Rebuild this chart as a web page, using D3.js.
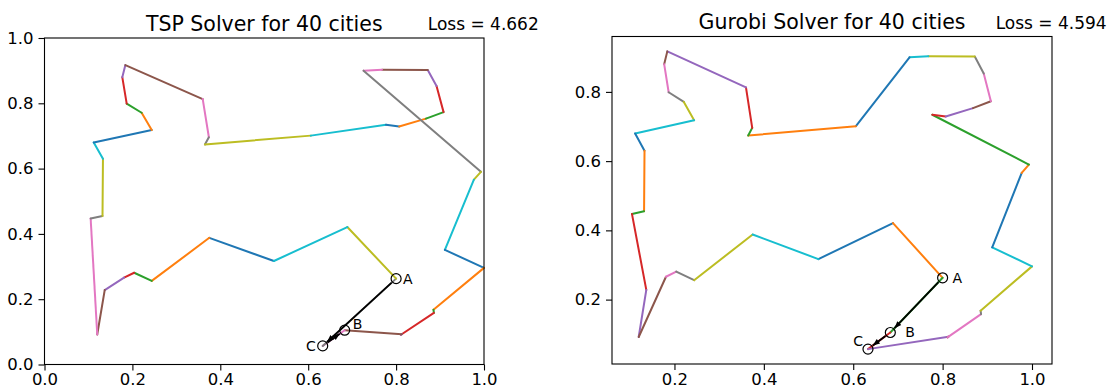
<!DOCTYPE html>
<html>
<head>
<meta charset="utf-8">
<script src="https://cdn.jsdelivr.net/npm/d3@7"></script>
<style>
  body { margin: 0; background: #fff; }
  svg { display: block; font-family: "DejaVu Sans", sans-serif; }
</style>
</head>
<body>
<svg id="chart" width="1112" height="389"></svg>
<script>
// city coordinates (unit square), indexed in the order the TSP solver visits them
const cityX = [0.522, 0.375, 0.244, 0.204, 0.181, 0.137, 0.120, 0.105, 0.132, 0.133,
               0.112, 0.244, 0.221, 0.187, 0.177, 0.184, 0.360, 0.374, 0.365, 0.606,
               0.777, 0.807, 0.868, 0.908, 0.892, 0.872, 0.768, 0.726, 0.993, 0.977,
               0.911, 1.000, 0.885, 0.886, 0.811, 0.813, 0.683, 0.633, 0.800, 0.689];
const cityY = [0.317, 0.388, 0.256, 0.281, 0.266, 0.228, 0.092, 0.447, 0.455, 0.630,
               0.680, 0.718, 0.771, 0.799, 0.880, 0.917, 0.813, 0.696, 0.674, 0.701,
               0.734, 0.729, 0.753, 0.773, 0.853, 0.902, 0.903, 0.900, 0.590, 0.566,
               0.351, 0.296, 0.168, 0.158, 0.091, 0.093, 0.105, 0.057, 0.263, 0.421];

const tspTour = d3.range(40);
const gurobiTour = [0, 39, 38, 36, 37, 35, 34, 33, 32, 31, 30, 29, 28, 20, 21, 22, 23, 24, 25, 26,
                    27, 19, 18, 17, 16, 15, 14, 13, 12, 11, 10, 9, 8, 7, 5, 6, 4, 3, 2, 1];

const panelTitles = ['TSP Solver for 40 cities', 'Gurobi Solver for 40 cities'];
const lossLabels = ['Loss = 4.662', 'Loss = 4.594'];

// marked cities A, B, C and the arrows drawn between them
const markedCities = [38, 36, 37];
const markNames = ['A', 'B', 'C'];
const tspArrows = [[38, 37], [37, 36]];
const gurobiArrows = [[38, 36], [36, 37]];

const tspTicksX = [0, 0.2, 0.4, 0.6, 0.8, 1.0];
const tspTicksY = [0, 0.2, 0.4, 0.6, 0.8, 1.0];
const gurobiTicksX = [0.2, 0.4, 0.6, 0.8, 1.0];
const gurobiTicksY = [0.2, 0.4, 0.6, 0.8];

const TITLE_SIZE = 20.5;
const TICK_SIZE = 16.5;
const LOSS_SIZE = 17;
const MARK_SIZE = 14;

const svg = d3.select('#chart');

svg.append('defs').append('marker')
  .attr('id', 'head')
  .attr('viewBox', '0 0 10 10')
  .attr('refX', 10).attr('refY', 5)
  .attr('markerUnits', 'userSpaceOnUse')
  .attr('markerWidth', 8).attr('markerHeight', 7)
  .attr('orient', 'auto')
  .append('path').attr('d', 'M0,1L10,5L0,9z').attr('fill', '#000');

function padded(values) {
  // matplotlib-style autoscale: data extent plus 5% each side
  const [lo, hi] = d3.extent(values);
  const m = (hi - lo) * 0.05;
  return [lo - m, hi + m];
}

const panels = [
  {
    left: 44.5, right: 484, top: 38, bottom: 364.5,
    xDomain: [0, 1], yDomain: [0, 1],
    tour: tspTour, arrows: tspArrows,
    ticksX: tspTicksX, ticksY: tspTicksY,
    labelOffsets: [[7, 5, 'start'], [8, -1, 'start'], [-7, 5, 'end']]
  },
  {
    left: 612, right: 1052, top: 36.5, bottom: 364,
    xDomain: padded(cityX), yDomain: padded(cityY),
    tour: gurobiTour, arrows: gurobiArrows,
    ticksX: gurobiTicksX, ticksY: gurobiTicksY,
    labelOffsets: [[10, 5, 'start'], [15, 5, 'start'], [-5, -3, 'end']]
  }
];

const color = d3.scaleOrdinal(d3.schemeCategory10).domain(d3.range(10));

panels.forEach((p, pi) => {
  const x = d3.scaleLinear().domain(p.xDomain).range([p.left, p.right]);
  const y = d3.scaleLinear().domain(p.yDomain).range([p.bottom, p.top]);
  const g = svg.append('g');

  // tour segments, one colour per leg in the default cycle
  const legs = p.tour.map((c, i) => [c, p.tour[(i + 1) % p.tour.length], i]);
  g.selectAll('line.leg')
    .data(legs)
    .enter().append('line')
    .attr('class', 'leg')
    .attr('x1', d => x(cityX[d[0]])).attr('y1', d => y(cityY[d[0]]))
    .attr('x2', d => x(cityX[d[1]])).attr('y2', d => y(cityY[d[1]]))
    .attr('stroke', d => color(d[2] % 10))
    .attr('stroke-width', 2)
    .attr('stroke-linecap', 'round');

  // arrows between marked cities
  g.selectAll('line.arrow')
    .data(p.arrows)
    .enter().append('line')
    .attr('class', 'arrow')
    .each(function (d) {
      const x0 = x(cityX[d[0]]), y0 = y(cityY[d[0]]);
      const x1 = x(cityX[d[1]]), y1 = y(cityY[d[1]]);
      const len = Math.hypot(x1 - x0, y1 - y0);
      const ux = (x1 - x0) / len, uy = (y1 - y0) / len;
      d3.select(this)
        .attr('x1', x0 + ux * 6).attr('y1', y0 + uy * 6)
        .attr('x2', x1 - ux * 6).attr('y2', y1 - uy * 6);
    })
    .attr('stroke', '#000')
    .attr('stroke-width', 1.8)
    .attr('marker-end', 'url(#head)');

  g.selectAll('circle.mark')
    .data(markedCities)
    .enter().append('circle')
    .attr('class', 'mark')
    .attr('cx', d => x(cityX[d])).attr('cy', d => y(cityY[d]))
    .attr('r', 5)
    .attr('fill', 'none')
    .attr('stroke', '#000')
    .attr('stroke-width', 1.2);

  g.selectAll('text.mark')
    .data(markedCities)
    .enter().append('text')
    .attr('class', 'mark')
    .attr('x', (d, i) => x(cityX[d]) + p.labelOffsets[i][0])
    .attr('y', (d, i) => y(cityY[d]) + p.labelOffsets[i][1])
    .attr('text-anchor', (d, i) => p.labelOffsets[i][2])
    .attr('font-size', MARK_SIZE)
    .text((d, i) => markNames[i]);

  // axes
  const xAxis = d3.axisBottom(x).tickValues(p.ticksX).tickFormat(d3.format('.1f'))
    .tickSize(6).tickPadding(3);
  const yAxis = d3.axisLeft(y).tickValues(p.ticksY).tickFormat(d3.format('.1f'))
    .tickSize(6).tickPadding(5);

  const gx = g.append('g').attr('transform', `translate(0,${p.bottom})`).call(xAxis);
  const gy = g.append('g').attr('transform', `translate(${p.left},0)`).call(yAxis);
  [gx, gy].forEach(a => {
    a.select('.domain').remove();
    a.selectAll('line').attr('stroke', '#000').attr('stroke-width', 1.1);
    a.selectAll('text').attr('fill', '#000').attr('font-size', TICK_SIZE)
      .attr('font-family', '"DejaVu Sans", sans-serif');
  });

  g.append('rect')
    .attr('x', p.left).attr('y', p.top)
    .attr('width', p.right - p.left).attr('height', p.bottom - p.top)
    .attr('fill', 'none').attr('stroke', '#000').attr('stroke-width', 1.1);

  g.append('text')
    .attr('x', (p.left + p.right) / 2).attr('y', p.top - 7.5)
    .attr('text-anchor', 'middle')
    .attr('font-size', TITLE_SIZE)
    .text(panelTitles[pi]);

  g.append('text')
    .attr('x', p.left + 0.872 * (p.right - p.left))
    .attr('y', p.top - 8)
    .attr('font-size', LOSS_SIZE)
    .text(lossLabels[pi]);
});
</script>
</body>
</html>
